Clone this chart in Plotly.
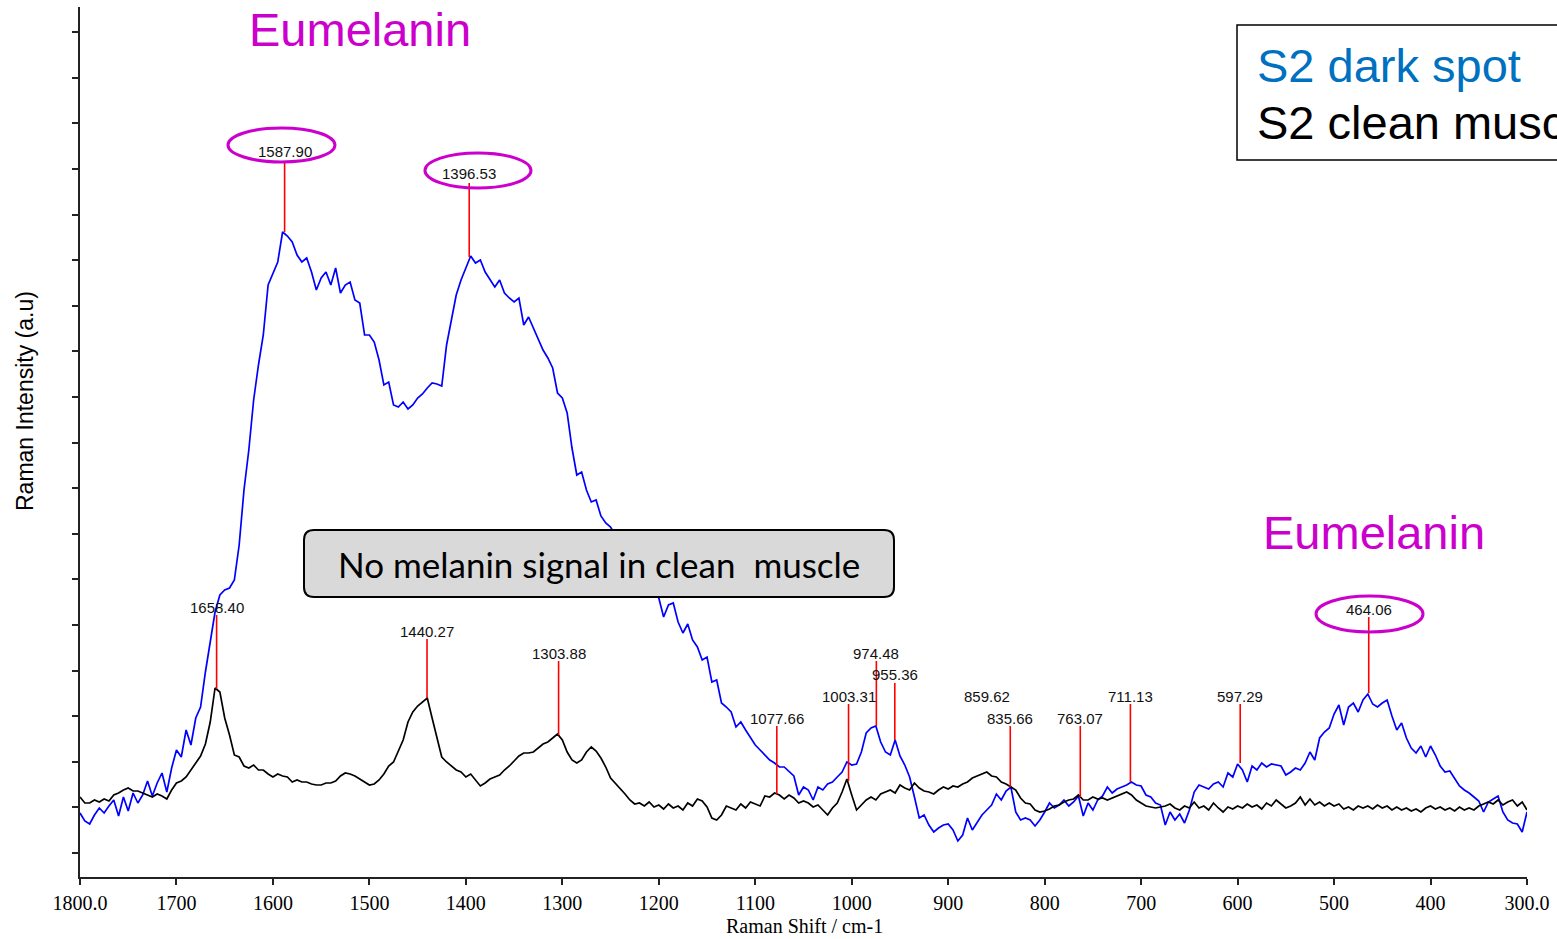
import plotly.graph_objects as go
import numpy as np

# Raman shift grid (cm-1), read every 5 cm-1 from 1800 down to 300
raman_shift = np.arange(1800, 299, -5)

# S2 dark spot (blue), intensity in a.u.
dark_spot = [
    64, 56, 53, 62, 69, 64, 71, 77, 61, 80,
    66, 84, 74, 82, 96, 81, 94, 104, 85, 109,
    127, 120, 147, 132, 159, 170, 205, 237, 265, 282,
    287, 289, 297, 332, 387, 427, 477, 512, 542, 592,
    604, 615, 645, 641, 635, 622, 615, 619, 605, 587,
    599, 605, 592, 609, 584, 592, 595, 577, 574, 542,
    542, 535, 517, 492, 495, 472, 470, 475, 468, 472,
    479, 483, 489, 494, 493, 491, 532, 559, 582, 597,
    609, 621, 614, 617, 605, 597, 590, 597, 584, 579,
    575, 579, 552, 560, 549, 539, 527, 519, 509, 484,
    479, 464, 429, 402, 405, 387, 375, 377, 361, 354,
    350, 342, 332, 325, 317, 310, 302, 295, 289, 284,
    279, 260, 272, 274, 255, 244, 253, 237, 230, 217,
    220, 195, 197, 174, 170, 165, 150, 155, 147, 140,
    132, 127, 122, 117, 114, 110, 110, 105, 101, 82,
    90, 87, 77, 90, 87, 93, 95, 100, 105, 115,
    112, 113, 125, 144, 149, 151, 135, 125, 122, 137,
    121, 112, 100, 80, 59, 62, 52, 45, 49, 52,
    53, 47, 36, 42, 59, 47, 55, 62, 67, 72,
    83, 77, 86, 90, 65, 57, 59, 57, 51, 57,
    65, 74, 69, 72, 77, 71, 75, 81, 61, 74,
    67, 77, 81, 90, 84, 88, 90, 92, 95, 92,
    91, 82, 80, 74, 72, 52, 65, 57, 63, 54,
    67, 85, 92, 90, 88, 93, 95, 90, 104, 100,
    113, 107, 95, 111, 107, 114, 110, 113, 112, 111,
    102, 105, 109, 107, 114, 125, 117, 139, 145, 149,
    163, 172, 152, 170, 174, 165, 177, 183, 173, 170,
    174, 177, 161, 147, 154, 139, 129, 124, 131, 120,
    131, 122, 111, 105, 106, 99, 91, 87, 84, 80,
    76, 65, 75, 78, 81, 65, 57, 54, 53, 45,
    65,
]

# S2 clean muscle (black)
clean_muscle = [
    80, 74, 74, 77, 75, 78, 76, 82, 84, 87,
    89, 86, 86, 84, 82, 80, 83, 81, 78, 87,
    94, 96, 100, 107, 115, 121, 133, 155, 189, 185,
    159, 142, 122, 120, 111, 109, 112, 107, 107, 103,
    100, 103, 101, 100, 95, 97, 95, 95, 93, 92,
    92, 94, 94, 96, 101, 104, 103, 101, 98, 95,
    92, 93, 97, 103, 111, 115, 127, 137, 155, 165,
    171, 175, 179, 159, 140, 120, 115, 111, 107, 105,
    100, 103, 97, 91, 94, 98, 100, 102, 107, 111,
    116, 121, 124, 124, 125, 129, 133, 135, 139, 143,
    137, 125, 117, 114, 117, 125, 130, 126, 119, 110,
    99, 94, 89, 83, 77, 73, 74, 71, 75, 70,
    72, 68, 73, 69, 71, 67, 74, 71, 78, 76,
    70, 59, 57, 62, 71, 69, 67, 73, 69, 75,
    73, 71, 81, 80, 84, 82, 78, 82, 79, 74,
    76, 74, 70, 72, 67, 62, 69, 74, 85, 98,
    82, 67, 72, 77, 80, 77, 83, 85, 87, 84,
    92, 89, 87, 94, 89, 86, 85, 83, 87, 90,
    88, 91, 90, 93, 95, 99, 101, 103, 105, 101,
    100, 95, 93, 90, 87, 79, 74, 73, 67, 65,
    66, 68, 71, 72, 75, 77, 78, 82, 77, 77,
    80, 78, 79, 77, 79, 81, 83, 85, 82, 77,
    74, 71, 70, 69, 70, 71, 73, 69, 67, 71,
    69, 75, 69, 71, 67, 74, 69, 65, 70, 68,
    71, 69, 73, 70, 72, 68, 74, 71, 77, 73,
    69, 71, 74, 80, 72, 78, 72, 75, 71, 74,
    71, 73, 68, 70, 67, 71, 69, 71, 68, 72,
    69, 71, 67, 70, 67, 69, 66, 68, 65, 69,
    71, 68, 70, 67, 69, 66, 70, 67, 69, 67,
    71, 73, 75, 73, 77, 72, 75, 77, 71, 75,
    67,
]

# peak labels: position, red marker bottom / top, label height (None = no marker)
peak_pos = [1658.40, 1587.90, 1396.53, 1440.27, 1303.88, 1077.66, 1003.31,
            974.48, 955.36, 859.62, 835.66, 763.07, 711.13, 597.29, 464.06]
peak_base = [188, 645, 620, 179, 142, 83, 96, 151, 137, None, 90, 80, 95, 114, 184]
peak_top = [262, 716, 694, 238, 216, 151, 173, 216, 194, None, 151, 151, 173, 173, 260]
label_y = [270, 726, 704, 246, 224, 159, 181, 224, 203, 181, 159, 159, 181, 181, 268]

# eumelanin peaks circled in magenta: (x0, x1, y0, y1)
circled = [
    (1646.6, 1535.7, 715, 749),
    (1442.4, 1332.5, 689, 724),
    (518.7, 407.8, 245, 281),
]

x_ticks = [1800, 1700, 1600, 1500, 1400, 1300, 1200, 1100, 1000, 900, 800, 700, 600, 500, 400, 300]
x_ticktext = ["1800.0", "1700", "1600", "1500", "1400", "1300", "1200", "1100",
              "1000", "900", "800", "700", "600", "500", "400", "300.0"]

MAGENTA = "#CC00CC"
W, H = 1557, 939
L, R, T, B = 80, 30, 7, 62


def px_x(p):
    return (p - L) / (W - L - R)


def px_y(p):
    return (H - B - p) / (H - T - B)


def rounded_box(x0, y0, x1, y1, r):
    ax0, ax1 = px_x(x0), px_x(x1)
    ay0, ay1 = px_y(y0), px_y(y1)
    rx = r / (W - L - R)
    ry = r / (H - T - B)
    return (
        f"M {ax0 + rx},{ay0} L {ax1 - rx},{ay0} Q {ax1},{ay0} {ax1},{ay0 - ry} "
        f"L {ax1},{ay1 + ry} Q {ax1},{ay1} {ax1 - rx},{ay1} "
        f"L {ax0 + rx},{ay1} Q {ax0},{ay1} {ax0},{ay1 + ry} "
        f"L {ax0},{ay0 - ry} Q {ax0},{ay0} {ax0 + rx},{ay0} Z"
    )


fig = go.Figure()

fig.add_trace(
    go.Scatter(
        x=raman_shift,
        y=dark_spot,
        mode="lines",
        line=dict(color="#0000FF", width=1.7),
        name="S2 dark spot",
    )
)

fig.add_trace(
    go.Scatter(
        x=raman_shift,
        y=clean_muscle,
        mode="lines",
        line=dict(color="#000000", width=1.7),
        name="S2 clean muscle",
    )
)

shapes = []
annotations = []

for pos, base, top, ly in zip(peak_pos, peak_base, peak_top, label_y):
    if base is not None:
        shapes.append(dict(
            type="line", xref="x", yref="y", x0=pos, x1=pos, y0=base, y1=top,
            line=dict(color="#FF0000", width=1.6), layer="above",
        ))
    annotations.append(dict(
        x=pos, y=ly, xref="x", yref="y", text=f"{pos:.2f}", showarrow=False,
        font=dict(family="Liberation Sans, Arial", size=15, color="#111111"),
        xanchor="center", yanchor="middle",
    ))

for x0, x1, y0, y1 in circled:
    shapes.append(dict(
        type="circle", xref="x", yref="y", x0=x0, x1=x1, y0=y0, y1=y1,
        line=dict(color=MAGENTA, width=3), layer="above",
    ))

# grey callout box
shapes.append(dict(
    type="path", xref="paper", yref="paper",
    path=rounded_box(304, 530, 894, 597, 10),
    fillcolor="#D9D9D9", line=dict(color="#000000", width=2), layer="above",
))
annotations.append(dict(
    x=px_x(599), y=px_y(564), xref="paper", yref="paper",
    text="No melanin signal in clean  muscle", showarrow=False,
    font=dict(family="Lato, Open Sans", size=35, color="#000000"),
    xanchor="center", yanchor="middle",
))

# legend box (runs off the right edge)
shapes.append(dict(
    type="rect", xref="paper", yref="paper",
    x0=px_x(1237), x1=px_x(1700), y0=px_y(25), y1=px_y(160),
    fillcolor="white", line=dict(color="#000000", width=1.5), layer="above",
))
annotations.append(dict(
    x=px_x(1255), y=px_y(66), xref="paper", yref="paper", text="S2 dark spot",
    showarrow=False, font=dict(family="Liberation Sans, Arial", size=47, color="#0070C0"),
    xanchor="left", yanchor="middle",
))
annotations.append(dict(
    x=px_x(1255), y=px_y(122), xref="paper", yref="paper", text="S2 clean muscle",
    showarrow=False, font=dict(family="Liberation Sans, Arial", size=47, color="#000000"),
    xanchor="left", yanchor="middle",
))

# Eumelanin titles
for cx, cy in [(360, 30), (1374, 532)]:
    annotations.append(dict(
        x=px_x(cx), y=px_y(cy), xref="paper", yref="paper", text="Eumelanin",
        showarrow=False, font=dict(family="Liberation Sans, Arial", size=47, color=MAGENTA),
        xanchor="center", yanchor="middle",
    ))

# axis titles
annotations.append(dict(
    x=px_x(804), y=px_y(926), xref="paper", yref="paper", text="Raman Shift / cm-1",
    showarrow=False, font=dict(family="Liberation Serif, Times New Roman", size=20, color="#000000"),
    xanchor="center", yanchor="middle",
))
annotations.append(dict(
    x=px_x(25), y=px_y(401), xref="paper", yref="paper", text="Raman Intensity (a.u)",
    showarrow=False, textangle=-90,
    font=dict(family="Liberation Sans, Arial", size=23, color="#000000"),
    xanchor="center", yanchor="middle",
))

fig.update_layout(
    width=W,
    height=H,
    margin=dict(l=L, r=R, t=T, b=B),
    plot_bgcolor="white",
    paper_bgcolor="white",
    showlegend=False,
    shapes=shapes,
    annotations=annotations,
    xaxis=dict(
        range=[1800, 300],
        tickvals=x_ticks,
        ticktext=x_ticktext,
        ticks="outside",
        ticklen=6,
        tickwidth=2,
        tickcolor="#222222",
        showline=True,
        linecolor="#222222",
        linewidth=2,
        showgrid=False,
        zeroline=False,
        ticklabelstandoff=1,
        tickfont=dict(family="Liberation Serif, Times New Roman", size=20, color="#000000"),
    ),
    yaxis=dict(
        range=[0, 870],
        tick0=24,
        dtick=45.6,
        ticks="outside",
        ticklen=6,
        tickwidth=2,
        tickcolor="#222222",
        showticklabels=False,
        showline=True,
        linecolor="#222222",
        linewidth=2,
        showgrid=False,
        zeroline=False,
    ),
)

fig.write_html(
    "out.html",
    config={"displayModeBar": False},
    post_script="document.body.style.margin='0px';document.body.style.overflow='hidden';",
)
